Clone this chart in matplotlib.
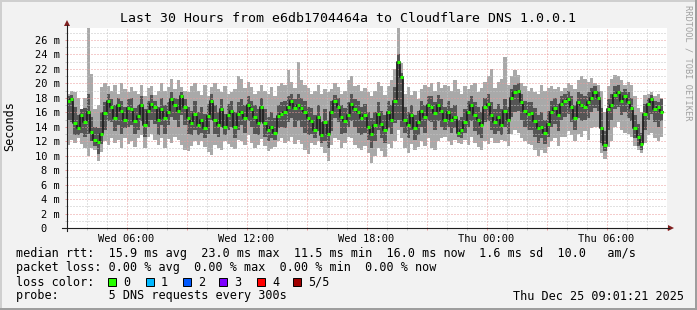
#!/usr/bin/env python
"""SmokePing style latency graph: 30 hours of DNS probes to 1.0.0.1."""
import matplotlib
matplotlib.use("Agg")
import matplotlib.pyplot as plt
import matplotlib.dates as mdates
from matplotlib.patches import Rectangle, Polygon
from matplotlib.lines import Line2D
from matplotlib.ticker import MultipleLocator, FuncFormatter
import numpy as np
import pandas as pd

W, H = 697, 310
MONO = "DejaVu Sans Mono"
plt.rcParams["font.family"] = MONO

# 10 minute buckets, values in ms (5 pings per bucket, sorted)
START = "2025-12-24 02:50"
STEP = "10min"
VIEW_START = "2025-12-24 03:01:21"
VIEW_END = "2025-12-25 09:01:21"

ping_max = [
    18.2, 18.6, 19.0, 18.8, 18.0, 16.5, 18.0, 27.6, 21.3, 16.5,
    17.0, 19.5, 20.0, 19.6, 19.0, 19.8, 18.5, 20.0, 19.2, 18.8,
    19.5, 19.0, 18.6, 19.8, 18.2, 19.3, 19.6, 18.4, 19.0, 20.0,
    19.0, 19.5, 20.6, 19.2, 20.4, 19.5, 19.0, 18.8, 19.6, 20.0,
    19.0, 18.4, 19.8, 18.2, 19.5, 20.0, 19.2, 18.8, 19.6, 18.6,
    18.8, 19.2, 21.0, 20.6, 19.4, 20.2, 19.5, 18.5, 19.0, 19.8,
    19.0, 18.6, 19.5, 18.2, 19.6, 20.0, 19.8, 21.8, 20.2, 19.4,
    23.0, 20.5, 19.8, 19.4, 18.6, 19.0, 19.8, 18.6, 19.2, 18.8,
    19.2, 20.0, 19.5, 18.6, 19.0, 20.4, 21.0, 19.6, 19.8, 19.0,
    19.4, 18.8, 18.2, 19.0, 20.2, 19.6, 18.4, 19.6, 20.5, 22.0,
    27.6, 22.8, 18.6, 19.5, 18.4, 19.0, 17.8, 19.2, 19.8, 19.5,
    20.0, 19.0, 20.2, 19.4, 19.8, 19.6, 19.0, 20.4, 19.2, 18.6,
    19.6, 19.2, 19.8, 20.0, 18.8, 19.4, 20.2, 21.0, 22.0, 19.4,
    20.2, 20.6, 23.6, 19.8, 21.0, 21.8, 21.2, 20.0, 19.6, 19.0,
    19.4, 18.8, 18.6, 19.8, 19.0, 19.4, 19.6, 19.2, 19.5, 19.0,
    19.4, 20.0, 19.8, 19.2, 20.4, 21.0, 20.6, 20.2, 20.8, 20.0,
    19.8, 19.0, 16.0, 19.6, 20.6, 21.2, 21.0, 20.4, 19.8, 20.2,
    19.8, 18.2, 16.6, 16.0, 18.4, 18.6, 18.8, 18.2, 18.6, 18.0,
]
ping_hi = [
    17.0, 18.2, 18.4, 16.8, 15.6, 16.4, 16.6, 18.5, 15.4, 14.0,
    13.8, 16.0, 17.4, 18.6, 17.8, 17.0, 18.0, 17.6, 16.8, 17.8,
    18.0, 16.6, 17.0, 18.2, 16.4, 17.6, 18.4, 17.6, 16.8, 18.0,
    17.0, 17.4, 18.8, 18.0, 17.8, 18.8, 17.8, 16.8, 16.2, 17.6,
    16.0, 16.8, 15.8, 17.2, 18.6, 17.0, 16.0, 17.8, 15.8, 17.2,
    17.6, 16.0, 17.4, 17.8, 17.0, 18.2, 17.6, 17.0, 16.4, 18.0,
    16.4, 15.4, 16.0, 15.2, 17.0, 17.4, 17.6, 18.2, 18.6, 17.8,
    18.6, 18.0, 17.6, 16.8, 16.6, 15.6, 17.0, 14.6, 16.4, 15.0,
    17.6, 18.4, 18.0, 17.0, 16.6, 17.4, 18.6, 17.8, 17.6, 16.8,
    17.2, 16.0, 15.2, 16.0, 17.4, 16.2, 15.6, 17.6, 17.0, 19.5,
    24.0, 21.5, 16.8, 16.0, 17.0, 15.6, 16.2, 17.6, 17.0, 18.2,
    18.2, 17.4, 18.4, 17.8, 16.8, 17.6, 16.6, 17.0, 15.0, 15.4,
    16.4, 17.6, 18.2, 17.4, 16.8, 16.0, 18.0, 18.6, 17.4, 16.4,
    17.2, 16.4, 17.8, 16.8, 19.2, 19.8, 20.0, 18.6, 17.6, 17.4,
    17.4, 16.6, 15.6, 16.0, 15.0, 16.2, 17.6, 18.0, 17.2, 18.2,
    18.6, 19.0, 18.2, 17.0, 18.8, 18.6, 18.2, 18.8, 19.4, 19.6,
    19.0, 16.6, 13.4, 17.8, 18.6, 19.6, 19.8, 18.8, 19.2, 18.8,
    18.0, 15.6, 14.4, 13.2, 17.2, 18.0, 18.4, 17.6, 17.4, 17.8,
]
ping_med = [
    15.4, 17.5, 17.8, 14.5, 13.8, 15.6, 14.7, 16.0, 13.3, 12.2,
    11.9, 13.0, 15.9, 17.5, 16.8, 15.2, 17.0, 16.2, 15.0, 16.6,
    16.5, 14.8, 15.5, 17.0, 14.2, 16.2, 17.2, 16.8, 15.0, 16.4,
    15.2, 16.0, 17.8, 17.0, 16.2, 18.2, 16.8, 15.2, 14.5, 15.8,
    14.2, 15.0, 13.8, 15.5, 17.6, 15.0, 14.2, 16.5, 13.9, 15.6,
    16.2, 14.0, 15.8, 16.0, 15.2, 17.0, 16.5, 15.4, 14.5, 16.8,
    14.5, 13.6, 14.0, 13.2, 15.5, 15.8, 16.0, 16.8, 17.6, 16.6,
    17.0, 16.6, 16.0, 15.2, 14.8, 13.6, 15.4, 12.8, 14.6, 13.0,
    16.0, 17.5, 16.8, 15.4, 14.8, 15.6, 17.2, 16.5, 16.0, 15.2,
    15.6, 14.0, 13.0, 14.2, 15.8, 14.4, 13.6, 16.0, 15.0, 17.5,
    23.0, 20.9, 15.0, 14.2, 15.6, 13.8, 14.6, 16.2, 15.4, 17.0,
    16.8, 15.9, 17.0, 16.2, 15.0, 16.0, 14.9, 15.4, 13.2, 13.6,
    14.6, 16.0, 17.0, 15.6, 15.0, 14.2, 16.8, 17.2, 15.6, 14.6,
    15.4, 14.2, 16.2, 15.0, 18.0, 18.8, 19.0, 17.4, 16.2, 15.8,
    15.9, 14.8, 13.8, 14.0, 13.2, 14.4, 16.0, 16.6, 15.6, 17.2,
    17.6, 17.8, 16.8, 15.2, 17.4, 17.0, 16.8, 17.4, 18.0, 18.8,
    18.0, 13.8, 11.5, 16.4, 17.0, 18.4, 18.8, 17.6, 18.2, 17.4,
    16.6, 13.8, 12.6, 11.6, 15.8, 17.2, 17.9, 16.4, 16.8, 16.0,
]
ping_lo = [
    13.2, 15.0, 14.6, 12.8, 12.9, 13.2, 12.6, 13.0, 12.0, 11.4,
    10.2, 11.6, 13.6, 14.8, 14.6, 13.4, 14.2, 13.0, 13.8, 14.0,
    14.2, 13.0, 13.6, 14.8, 12.6, 14.0, 15.0, 14.4, 12.8, 14.2,
    13.0, 14.2, 15.4, 15.0, 14.0, 15.6, 14.2, 13.0, 12.8, 13.6,
    12.8, 13.2, 12.4, 13.0, 15.0, 13.0, 12.6, 14.0, 12.8, 13.6,
    14.0, 12.4, 13.6, 14.2, 13.2, 14.8, 14.0, 13.0, 12.8, 14.6,
    12.6, 12.0, 12.4, 12.2, 13.8, 14.0, 13.8, 14.6, 15.2, 14.0,
    14.8, 14.0, 13.2, 12.8, 13.0, 12.4, 13.4, 11.8, 12.0, 11.0,
    13.4, 15.2, 14.6, 13.0, 13.2, 14.0, 14.8, 14.0, 13.2, 12.8,
    13.2, 12.2, 11.0, 12.0, 13.6, 12.4, 11.8, 13.8, 13.0, 14.5,
    15.0, 14.0, 13.2, 12.4, 13.6, 12.2, 12.8, 14.0, 13.2, 14.8,
    14.6, 13.6, 14.8, 14.0, 13.6, 14.0, 13.2, 13.8, 12.6, 12.4,
    13.2, 14.0, 14.8, 13.4, 12.8, 12.4, 14.6, 14.8, 13.6, 13.0,
    13.4, 12.8, 14.0, 13.0, 15.4, 16.0, 16.2, 15.0, 14.0, 13.6,
    13.6, 12.6, 11.8, 12.4, 11.6, 12.6, 14.0, 14.4, 13.4, 15.0,
    15.4, 15.8, 14.6, 13.6, 15.2, 14.8, 15.0, 15.2, 16.0, 16.6,
    16.2, 11.8, 10.6, 13.6, 15.0, 16.4, 16.8, 15.6, 16.0, 15.2,
    14.8, 12.4, 11.4, 10.8, 13.6, 15.0, 15.8, 14.6, 14.0, 14.8,
]
ping_min = [
    10.8, 11.5, 12.2, 11.8, 12.4, 11.6, 11.0, 9.9, 11.0, 10.8,
    9.2, 10.5, 12.0, 11.5, 12.4, 11.8, 12.2, 11.0, 12.5, 11.6,
    12.0, 11.2, 12.5, 12.8, 11.0, 12.6, 13.0, 12.2, 11.5, 12.4,
    11.0, 12.3, 11.8, 12.6, 12.2, 11.5, 10.8, 10.6, 11.4, 12.0,
    11.5, 12.0, 11.2, 10.5, 10.1, 11.5, 11.0, 10.8, 12.0, 11.6,
    11.2, 10.9, 12.2, 12.0, 11.5, 12.8, 11.8, 11.0, 11.5, 12.3,
    11.4, 10.6, 10.9, 11.2, 12.0, 12.4, 11.8, 12.0, 12.6, 11.6,
    12.2, 11.6, 10.8, 10.3, 11.8, 11.5, 12.0, 11.2, 10.4, 9.3,
    11.5, 12.5, 12.2, 11.0, 11.8, 12.6, 12.4, 11.5, 11.0, 10.8,
    11.4, 10.4, 9.0, 10.0, 11.0, 10.6, 9.8, 11.6, 11.0, 12.0,
    13.5, 12.4, 11.0, 10.4, 11.6, 10.8, 11.2, 12.0, 11.4, 12.4,
    11.0, 10.8, 12.0, 12.4, 12.6, 12.0, 11.5, 12.2, 11.8, 11.6,
    12.2, 11.5, 12.6, 11.8, 11.2, 10.8, 12.0, 11.6, 12.4, 11.8,
    11.8, 12.2, 12.0, 11.4, 13.0, 13.6, 13.2, 12.5, 12.0, 11.6,
    11.5, 10.8, 10.0, 10.8, 10.4, 11.2, 12.0, 12.4, 11.4, 12.6,
    12.6, 13.4, 12.8, 12.0, 13.0, 12.6, 13.4, 12.2, 13.8, 14.0,
    14.0, 10.4, 9.5, 11.2, 12.0, 14.0, 14.6, 13.6, 13.2, 13.0,
    12.6, 11.4, 10.8, 10.4, 11.8, 12.8, 13.2, 12.4, 12.0, 12.6,
]

y_ticks = list(range(0, 27, 2))
y_labels = ["0  "] + [f"{v} m" for v in y_ticks[1:]]

title = "Last 30 Hours from e6db1704464a to Cloudflare DNS 1.0.0.1"
rtt_line = "median rtt:  15.9 ms avg  23.0 ms max  11.5 ms min  16.0 ms now  1.6 ms sd  10.0   am/s"
loss_line = "packet loss: 0.00 % avg  0.00 % max  0.00 % min  0.00 % now"
probe_line = "probe:       5 DNS requests every 300s"
stamp = "Thu Dec 25 09:01:21 2025"
loss_labels = ["0", "1", "2", "3", "4", "5/5"]
loss_colors = ["#26ff00", "#00b8ff", "#0059ff", "#7e00ff", "#ff0000", "#a00000"]

BG = "#f2f2f2"
SMOKE_OUT = "#a9a9a9"
SMOKE_IN = "#555555"
MGRID = "#eb9a9a"
GRID = "#c4c4c4"
ARROW = "#801f1f"
AXIS = "#1f1f1f"


def fx(x):
    return x / W


def fy(y):
    return 1 - y / H


def main():
    fig = plt.figure(figsize=(W / 100, H / 100), dpi=100, facecolor=BG)

    # frame shading like rrdtool
    fig.add_artist(Rectangle((0, fy(2)), 1, 2 / H, transform=fig.transFigure, color="#cfcfcf", lw=0))
    fig.add_artist(Rectangle((0, 0), 2 / W, 1, transform=fig.transFigure, color="#cfcfcf", lw=0))
    fig.add_artist(Rectangle((0, 0), 1, 2 / H, transform=fig.transFigure, color="#9e9e9e", lw=0))
    fig.add_artist(Rectangle((fx(W - 2), 0), 2 / W, 1, transform=fig.transFigure, color="#9e9e9e", lw=0))

    ax = fig.add_axes([fx(67), fy(228), fx(600), 200 / H])
    ax.set_facecolor("white")

    edges = pd.date_range(START, periods=len(ping_med) + 1, freq=STEP)
    t = mdates.date2num(edges.to_pydatetime())

    def ext(a):
        return np.append(a, a[-1])

    ax.fill_between(t, ext(ping_min), ext(ping_max), step="post", color=SMOKE_OUT, lw=0)
    ax.fill_between(t, ext(ping_lo), ext(ping_hi), step="post", color=SMOKE_IN, lw=0)
    ax.step(t, ext(ping_med), where="post", color="#202020", lw=1.3, zorder=3)
    ax.hlines(ping_med, t[:-1], t[1:], colors=loss_colors[0], lw=2.2, zorder=4)

    ax.set_xlim(mdates.date2num(pd.Timestamp(VIEW_START)), mdates.date2num(pd.Timestamp(VIEW_END)))
    ax.set_ylim(0, 27.66)

    ax.set_yticks(y_ticks)
    ax.set_yticklabels(y_labels)
    ax.yaxis.set_minor_locator(MultipleLocator(1))
    ax.xaxis.set_major_locator(mdates.HourLocator(byhour=range(0, 24, 3)))
    ax.xaxis.set_minor_locator(mdates.HourLocator())

    def xfmt(v, pos):
        d = mdates.num2date(v)
        return d.strftime("%a %H:%M") if d.hour % 6 == 0 else ""

    ax.xaxis.set_major_formatter(FuncFormatter(xfmt))

    ax.grid(which="major", color=MGRID, linestyle=(0, (1, 2)), lw=0.72)
    ax.grid(which="minor", color=GRID, linestyle=(0, (1, 2)), lw=0.72)
    ax.tick_params(axis="both", which="both", length=1.5, width=0.72, labelsize=7.5)
    ax.tick_params(axis="x", which="major", color=MGRID, pad=2.5)
    ax.tick_params(axis="x", which="minor", color=GRID)
    ax.tick_params(axis="y", which="major", color=MGRID, pad=3.6)
    ax.tick_params(axis="y", which="minor", color=GRID)
    for s in ax.spines.values():
        s.set_visible(False)

    # axis lines with arrows
    fig.add_artist(Line2D([fx(62), fx(669)], [fy(228), fy(228)], transform=fig.transFigure, color=AXIS, lw=0.8))
    fig.add_artist(Line2D([fx(67), fx(67)], [fy(231), fy(25)], transform=fig.transFigure, color=AXIS, lw=0.8))
    fig.add_artist(Polygon([(fx(64), fy(26)), (fx(70), fy(26)), (fx(67), fy(20))],
                           transform=fig.transFigure, color=ARROW, lw=0))
    fig.add_artist(Polygon([(fx(668), fy(225)), (fx(668), fy(231)), (fx(674), fy(228))],
                           transform=fig.transFigure, color=ARROW, lw=0))

    fig.text(fx(347.5), fy(19), title, ha="center", va="center", size=9.55)
    fig.text(fx(10), fy(126), "Seconds", ha="center", va="center", rotation=90, size=8.5)
    fig.text(fx(688), fy(5), "RRDTOOL / TOBI OETIKER", ha="center", va="top",
             rotation=270, size=6.2, color="#a0a0a0")

    fig.text(fx(16), fy(254), rtt_line, ha="left", va="center", size=8.5)
    fig.text(fx(16), fy(268), loss_line, ha="left", va="center", size=8.5)
    fig.text(fx(16), fy(282), "loss color:", ha="left", va="center", size=8.5)
    fig.text(fx(16), fy(296), probe_line, ha="left", va="center", size=8.5)
    fig.text(fx(513), fy(296), stamp, ha="left", va="center", size=8.5)

    box_x = [108, 146, 183, 219, 257, 293]
    for bx, lab, col in zip(box_x, loss_labels, loss_colors):
        fig.add_artist(Rectangle((fx(bx), fy(286)), 8 / W, 8 / H, transform=fig.transFigure,
                                 facecolor=col, edgecolor="black", lw=0.7))
        fig.text(fx(bx + 15), fy(282), lab, ha="left", va="center", size=8.5)

    fig.savefig("out.png", dpi=100, facecolor=fig.get_facecolor())


if __name__ == "__main__":
    main()
